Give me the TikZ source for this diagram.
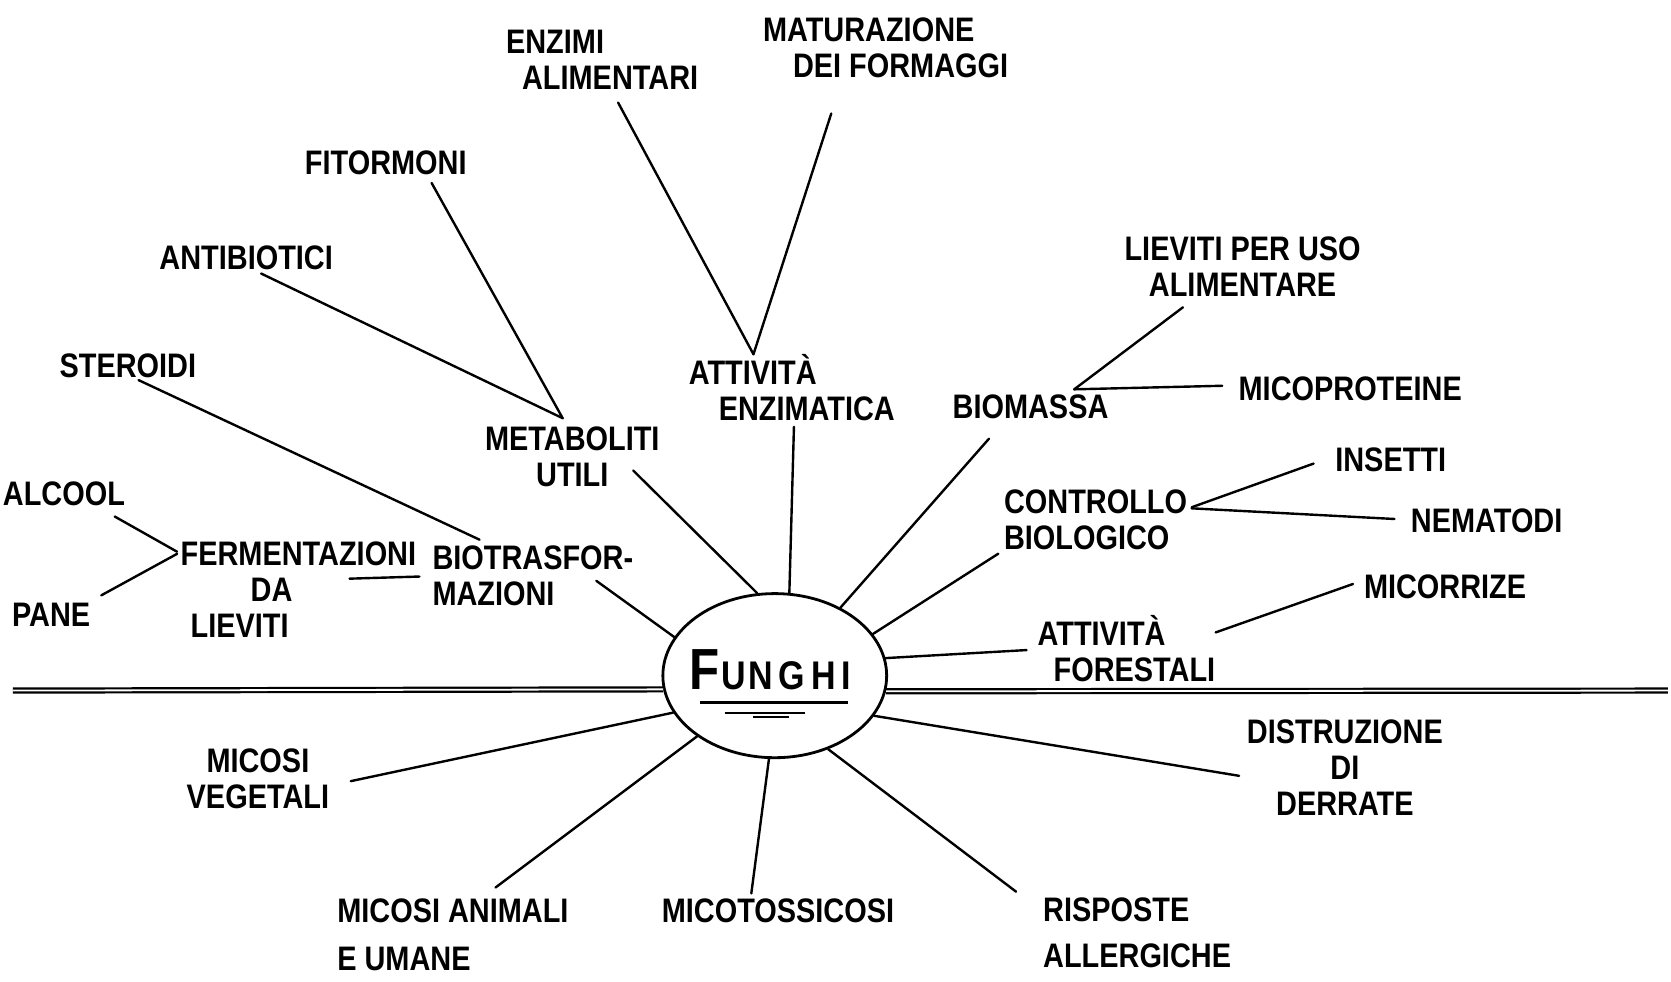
\documentclass[tikz,border=0pt]{standalone}
\usepackage{fontspec}
\setmainfont{Liberation Sans}[FakeStretch=0.85]
\usetikzlibrary{shapes.geometric,calc}
\newcommand\lblfont{\fontsize{17}{18}\selectfont\bfseries}
\tikzset{
  lbl/.style={font=\lblfont, inner sep=0pt},
  con/.style={line width=1.2pt, line cap=round},
  dline/.style={double, double distance=0.9pt, line width=1.1pt},
}
\begin{document}
\begin{tikzpicture}[x=0.53285pt, y=-0.53285pt]
\useasboundingbox[fill=white] (0,0) rectangle (1568,921);

% centre
\node[draw, ellipse, line width=1.4pt, minimum width=111.9pt, minimum height=82.06pt, inner sep=0pt] (fun) at (727,634) {};
\node[inner sep=0pt, anchor=base] (funtxt) at (723,647) {\bfseries{\fontsize{29}{29}\selectfont F}\hspace{1pt}{\fontsize{20}{20}\selectfont U\hspace{1pt}N\hspace{3pt}G\hspace{3pt}H\hspace{3pt}I}};
\draw[line width=1.4pt] ($(fun.center)+(-70,25)$) -- ($(fun.center)+(69,25)$);
\draw[line width=1pt] ($(fun.center)+(-47,35)$) -- ($(fun.center)+(28,35)$);
\draw[line width=1pt] ($(fun.center)+(-20,39)$) -- ($(fun.center)+(13,39)$);

% horizontal line
\coordinate (hl) at (12,648);
\coordinate (hr) at (1565,648);
\draw[dline] (hl) -- (fun.187.7);
\draw[dline] (fun.352.3) -- (hr);

% labels
\node[lbl, align=left] (enz) at (565,56) {ENZIMI\\\hspace*{8pt}ALIMENTARI};
\node[lbl, align=left] (mat) at (831,45) {MATURAZIONE\\\hspace*{15pt}DEI FORMAGGI};
\node[lbl] (fit) at (362,153) {FITORMONI};
\node[lbl] (ant) at (231,242) {ANTIBIOTICI};
\node[lbl] (ste) at (120,343) {STEROIDI};
\node[lbl, align=left] (att) at (743,364) {ATTIVITÀ\\\hspace*{15pt}ENZIMATICA};
\node[lbl, align=center] (met) at (537,429) {METABOLITI\\UTILI};
\node[lbl] (bio) at (967,382) {BIOMASSA};
\node[lbl, align=center] (lie) at (1166,250) {LIEVITI PER USO\\ALIMENTARE};
\node[lbl] (mic) at (1267,365) {MICOPROTEINE};
\node[lbl] (ins) at (1305,431) {INSETTI};
\node[lbl, align=left] (con) at (1028,488) {CONTROLLO\\BIOLOGICO};
\node[lbl] (nem) at (1395,489) {NEMATODI};
\node[lbl] (mcr) at (1356,551) {MICORRIZE};
\node[lbl, align=left] (afo) at (1057,609) {ATTIVITÀ\\\hspace*{8pt}FORESTALI};
\node[lbl] (alc) at (60,463) {ALCOOL};
\node[lbl] (pan) at (48,577) {PANE};
\node[lbl, align=left] (fer) at (280,553) {FERMENTAZIONI\\\hspace*{35pt}DA\\\hspace*{5pt}LIEVITI};
\node[lbl, align=left] (btr) at (500,540) {BIOTRASFOR-\\MAZIONI};
\node[lbl, align=center] (mve) at (242,731) {MICOSI\\VEGETALI};
\node[lbl, align=left] (man) at (425,877) {MICOSI ANIMALI\\[6pt]E UMANE};
\node[lbl] (mto) at (730,855) {MICOTOSSICOSI};
\node[lbl, align=left] (ris) at (1067,875) {RISPOSTE\\[5pt]ALLERGICHE};
\node[lbl, align=center] (dis) at (1262,720) {DISTRUZIONE\\DI\\DERRATE};

% connectors
\draw[con] ($(enz.south)+(15,12)$) -- ($(att.north)+(-36,0)$);
\draw[con] ($(mat.south)+(-51,33)$) -- ($(att.north)+(-36,0)$);
\draw[con] ($(fit.south)+(43,7)$) -- ($(met.north)+(-9,-8)$);
\draw[con] ($(ant.south)+(14,3)$) -- ($(met.north)+(-9,-8)$);
\draw[con] ($(ste.south)+(10,2)$) -- ($(btr.north)+(-50,-5)$);
\draw[con] ($(met.south east)+(-25,-16)$) -- (fun.102.6);
\draw[con] ($(att.south)+(2,5)$) -- (fun.80.7);
\draw[con] ($(bio.south)+(-39,18)$) -- (fun.46.4);
\draw[con] ($(lie.south)+(-56,10)$) -- ($(bio.north)+(41,-5)$);
\draw[con] ($(mic.west)+(-15,-3)$) -- ($(bio.north)+(41,-5)$);
\draw[con] ($(con.south west)+(-5,3)$) -- (fun.23.9);
\draw[con] ($(ins.west)+(-20,4)$) -- ($(con.east)+(4,-12)$);
\draw[con] ($(nem.west)+(-15,-2)$) -- ($(con.east)+(4,-11)$);
\draw[con] ($(mcr.west)+(-10,-3)$) -- ($(afo.north east)+(0,16)$);
\draw[con] ($(afo.west)+(-10,1)$) -- (fun.9);
\draw[con] ($(alc.south east)+(-10,10)$) -- ($(fer.north west)+(-3,10)$);
\draw[con] ($(pan.north east)+(10,-7)$) -- ($(fer.north west)+(-3,12)$);
\draw[con] ($(fer.center)+(48,-10)$) -- ($(btr.west)+(-12,1)$);
\draw[con] ($(btr.east)+(-35,5)$) -- (fun.159);
\draw[con] (fun.200.4) -- ($(mve.east)+(20,2)$);
\draw[con] (fun.218.9) -- ($(man.north)+(40,-10)$);
\draw[con] (fun.266) -- ($(mto.north)+(-25,-5)$);
\draw[con] (fun.306) -- ($(ris.north west)+(-25,-5)$);
\draw[con] (fun.338) -- ($(dis.west)+(-7,8)$);
\end{tikzpicture}
\end{document}
